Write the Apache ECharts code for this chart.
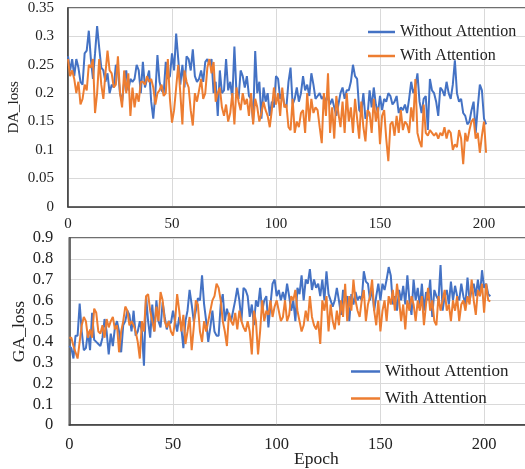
<!DOCTYPE html>
<html><head><meta charset="utf-8">
<script src="https://cdn.jsdelivr.net/npm/echarts@6/dist/echarts.min.js"></script>
<style>html,body{margin:0;padding:0;background:#fff}#c{width:525px;height:469px}</style>
</head><body><div id="c"></div>
<script>
var seriesNames = ['Without Attention', 'With Attention'];
var xTicks = [0, 50, 100, 150, 200];
var daTicks = [0, 0.05, 0.1, 0.15, 0.2, 0.25, 0.3, 0.35];
var gaTicks = [0, 0.1, 0.2, 0.3, 0.4, 0.5, 0.6, 0.7, 0.8, 0.9];

var daWithout = [
0.265,0.24,0.26,0.23,0.26,0.245,0.22,0.215,0.27,0.275,
0.31,0.26,0.225,0.27,0.318,0.28,0.245,0.24,0.22,0.235,
0.2,0.215,0.21,0.25,0.24,0.2,0.185,0.22,0.24,0.205,
0.225,0.22,0.225,0.25,0.24,0.2,0.255,0.21,0.225,0.24,
0.185,0.155,0.2,0.267,0.22,0.205,0.2,0.255,0.225,0.23,
0.27,0.24,0.305,0.26,0.215,0.25,0.21,0.265,0.26,0.24,
0.277,0.23,0.22,0.225,0.24,0.22,0.255,0.26,0.25,0.26,
0.2,0.22,0.16,0.24,0.2,0.205,0.26,0.205,0.22,0.19,
0.282,0.2,0.19,0.24,0.23,0.21,0.23,0.195,0.19,0.15,
0.274,0.2,0.22,0.155,0.21,0.185,0.2,0.16,0.185,0.175,
0.23,0.225,0.19,0.2,0.18,0.175,0.22,0.245,0.18,0.19,
0.21,0.185,0.2,0.23,0.205,0.215,0.195,0.235,0.215,0.19,
0.195,0.2,0.19,0.195,0.185,0.195,0.18,0.19,0.175,0.16,
0.18,0.2,0.21,0.19,0.205,0.205,0.22,0.25,0.23,0.225,
0.17,0.165,0.2,0.155,0.16,0.205,0.175,0.21,0.18,0.165,
0.195,0.17,0.19,0.185,0.2,0.195,0.18,0.185,0.195,0.165,
0.175,0.17,0.18,0.165,0.19,0.22,0.2,0.21,0.235,0.185,
0.165,0.19,0.195,0.135,0.225,0.205,0.2,0.185,0.16,0.21,
0.205,0.195,0.22,0.2,0.19,0.215,0.258,0.2,0.185,0.19,
0.165,0.16,0.145,0.15,0.17,0.185,0.13,0.175,0.215,0.205,
0.155,0.145
];
var daWith = [
0.26,0.23,0.24,0.225,0.2,0.22,0.18,0.19,0.215,0.205,
0.25,0.245,0.26,0.165,0.2,0.26,0.215,0.19,0.235,0.275,
0.24,0.235,0.21,0.215,0.265,0.2,0.175,0.24,0.2,0.235,
0.16,0.21,0.175,0.2,0.185,0.22,0.22,0.215,0.23,0.22,
0.225,0.21,0.18,0.2,0.205,0.215,0.195,0.2,0.26,0.19,
0.148,0.17,0.21,0.25,0.2,0.145,0.24,0.22,0.21,0.17,
0.143,0.2,0.185,0.205,0.225,0.19,0.2,0.245,0.26,0.235,
0.255,0.185,0.2,0.21,0.175,0.16,0.18,0.15,0.165,0.2,
0.145,0.21,0.185,0.17,0.2,0.18,0.19,0.16,0.2,0.145,
0.19,0.175,0.15,0.165,0.185,0.17,0.16,0.14,0.17,0.21,
0.18,0.2,0.16,0.21,0.175,0.18,0.14,0.135,0.19,0.13,
0.15,0.14,0.165,0.17,0.13,0.2,0.15,0.19,0.165,0.175,
0.17,0.14,0.112,0.2,0.16,0.235,0.13,0.175,0.12,0.195,
0.165,0.14,0.185,0.13,0.2,0.15,0.175,0.13,0.19,0.155,
0.12,0.185,0.14,0.115,0.17,0.165,0.13,0.19,0.15,0.175,
0.11,0.16,0.17,0.12,0.08,0.145,0.15,0.125,0.16,0.13,
0.17,0.135,0.15,0.145,0.13,0.175,0.15,0.225,0.13,0.115,
0.105,0.18,0.13,0.125,0.135,0.13,0.125,0.13,0.12,0.13,
0.125,0.14,0.12,0.135,0.13,0.1,0.11,0.105,0.135,0.12,
0.075,0.13,0.115,0.135,0.15,0.155,0.12,0.13,0.095,0.125,
0.15,0.095
];
var gaWithout = [
0.38,0.37,0.32,0.43,0.43,0.585,0.45,0.36,0.37,0.45,
0.36,0.54,0.41,0.4,0.39,0.38,0.42,0.51,0.45,0.34,
0.44,0.38,0.47,0.5,0.45,0.35,0.48,0.5,0.55,0.53,
0.45,0.55,0.43,0.45,0.5,0.45,0.285,0.62,0.5,0.42,
0.58,0.45,0.6,0.5,0.47,0.59,0.52,0.46,0.5,0.49,
0.55,0.5,0.45,0.52,0.47,0.37,0.5,0.55,0.65,0.58,
0.5,0.55,0.61,0.6,0.72,0.58,0.5,0.4,0.47,0.55,
0.45,0.43,0.43,0.58,0.63,0.5,0.56,0.52,0.5,0.55,
0.6,0.66,0.6,0.5,0.66,0.65,0.62,0.52,0.58,0.48,
0.6,0.57,0.66,0.55,0.6,0.62,0.47,0.58,0.68,0.7,
0.62,0.65,0.6,0.64,0.6,0.68,0.62,0.55,0.6,0.5,
0.66,0.63,0.72,0.6,0.7,0.68,0.75,0.65,0.7,0.66,
0.68,0.62,0.7,0.6,0.74,0.63,0.6,0.57,0.6,0.66,
0.6,0.53,0.65,0.6,0.62,0.5,0.63,0.58,0.64,0.6,
0.62,0.6,0.74,0.69,0.68,0.6,0.66,0.55,0.62,0.68,
0.6,0.68,0.65,0.7,0.76,0.72,0.58,0.62,0.55,0.65,
0.6,0.67,0.58,0.72,0.6,0.53,0.7,0.6,0.66,0.57,
0.68,0.55,0.64,0.6,0.7,0.52,0.65,0.62,0.6,0.77,
0.55,0.62,0.65,0.58,0.69,0.6,0.67,0.62,0.6,0.68,
0.62,0.58,0.71,0.6,0.65,0.68,0.62,0.7,0.62,0.745,
0.66,0.68,0.63,0.62
];
var gaWith = [
0.42,0.42,0.38,0.35,0.32,0.4,0.48,0.52,0.5,0.42,
0.46,0.42,0.56,0.54,0.45,0.44,0.48,0.42,0.51,0.47,
0.5,0.52,0.46,0.48,0.35,0.45,0.5,0.57,0.55,0.48,
0.5,0.48,0.45,0.4,0.32,0.5,0.45,0.62,0.63,0.55,
0.5,0.45,0.57,0.5,0.64,0.6,0.5,0.47,0.5,0.45,
0.43,0.5,0.63,0.55,0.45,0.53,0.39,0.45,0.52,0.36,
0.47,0.6,0.58,0.45,0.4,0.5,0.45,0.5,0.55,0.6,
0.62,0.68,0.66,0.6,0.5,0.45,0.38,0.54,0.5,0.48,
0.54,0.46,0.55,0.5,0.47,0.45,0.5,0.45,0.34,0.55,
0.5,0.34,0.45,0.6,0.5,0.55,0.53,0.6,0.52,0.57,
0.6,0.55,0.5,0.52,0.6,0.5,0.53,0.62,0.6,0.65,
0.55,0.5,0.45,0.48,0.55,0.5,0.62,0.52,0.48,0.46,
0.5,0.39,0.6,0.55,0.62,0.45,0.58,0.5,0.46,0.55,
0.48,0.6,0.52,0.68,0.5,0.62,0.55,0.7,0.6,0.55,
0.52,0.6,0.65,0.5,0.58,0.62,0.7,0.55,0.48,0.6,
0.45,0.55,0.6,0.5,0.62,0.58,0.65,0.55,0.68,0.6,
0.5,0.58,0.46,0.6,0.55,0.62,0.58,0.5,0.6,0.55,
0.62,0.48,0.58,0.66,0.55,0.6,0.5,0.48,0.62,0.55,
0.6,0.65,0.55,0.58,0.5,0.6,0.55,0.62,0.5,0.58,
0.6,0.55,0.62,0.58,0.7,0.6,0.53,0.65,0.62,0.68,
0.54,0.68,0.6,0.595
];

function pairs(arr){ return arr.map(function(v,i){ return [i, v]; }); }
var BLUE = '#4472C4', ORANGE = '#ED7D31';
var FONT = '"Liberation Serif","Times New Roman",serif';

function xAxis(gi, fs, margin){
  return {type:'value', gridIndex:gi, min:xTicks[0], max:250, interval:xTicks[1]-xTicks[0],
    axisLine:{show:true, onZero:false, lineStyle:{color:'#404040', width:1.5}},
    axisTick:{show:false},
    axisLabel:{color:'#222', fontFamily:FONT, fontSize:fs, margin:margin},
    splitLine:{show:true, lineStyle:{color:'#d9d9d9', width:1}}};
}
function yAxis(gi, ticks, name, fs, nfs, gap, margin){
  return {type:'value', gridIndex:gi, min:ticks[0], max:ticks[ticks.length-1], interval:ticks[1]-ticks[0],
    name:name, nameLocation:'middle', nameGap:gap, nameRotate:90, nameMoveOverlap:false,
    nameTextStyle:{color:'#222', fontFamily:FONT, fontSize:nfs},
    axisLine:{show:true, lineStyle:{color:'#404040', width:1.5}},
    axisTick:{show:false},
    axisLabel:{color:'#222', fontFamily:FONT, fontSize:fs, margin:margin,
      formatter:function(v){ return String(+v.toFixed(2)); }},
    splitLine:{show:true, lineStyle:{color:'#d9d9d9', width:1}}};
}
function line(name, data, color, xi, yi){
  return {type:'line', name:name, data:pairs(data), xAxisIndex:xi, yAxisIndex:yi,
    showSymbol:false, symbol:'none', lineStyle:{color:color, width:2}, itemStyle:{color:color},
    animation:false};
}

var chart = echarts.init(document.getElementById('c'), null, {renderer:'canvas'});
chart.setOption({
  backgroundColor:'#fff',
  animation:false,
  grid:[
    {left:68, top:8, width:520, height:198.7, outerBoundsMode:'none', containLabel:false, show:true, borderColor:'#404040', borderWidth:1.5, backgroundColor:'transparent'},
    {left:69.3, top:238, width:518.5, height:187, outerBoundsMode:'none', containLabel:false, show:true, borderColor:'#404040', borderWidth:1.5, backgroundColor:'transparent'}
  ],
  xAxis:[xAxis(0, 15, 10), xAxis(1, 16.5, 11)],
  yAxis:[yAxis(0, daTicks, 'DA_loss', 15, 15, 46, 14), yAxis(1, gaTicks, 'GA_loss', 16.5, 17.5, 41, 16)],
  legend:[
    {orient:'vertical', left:368, top:24, padding:0, itemGap:8, itemWidth:27, itemHeight:2.5, icon:'rect',
      textStyle:{fontFamily:FONT, fontSize:16, color:'#222'}, data:seriesNames, selectedMode:false},
    {orient:'vertical', left:351, top:363, padding:0, itemGap:10, itemWidth:29, itemHeight:2.5, icon:'rect',
      textStyle:{fontFamily:FONT, fontSize:17, color:'#222'}, data:seriesNames, selectedMode:false}
  ],
  graphic:[
    {type:'text', top:450, left:294, style:{text:'Epoch', font:'17.5px ' + FONT, fill:'#222'}}
  ],
  series:[
    line(seriesNames[0], daWithout, BLUE, 0, 0),
    line(seriesNames[1], daWith, ORANGE, 0, 0),
    line(seriesNames[0], gaWithout, BLUE, 1, 1),
    line(seriesNames[1], gaWith, ORANGE, 1, 1)
  ]
});
</script></body></html>
